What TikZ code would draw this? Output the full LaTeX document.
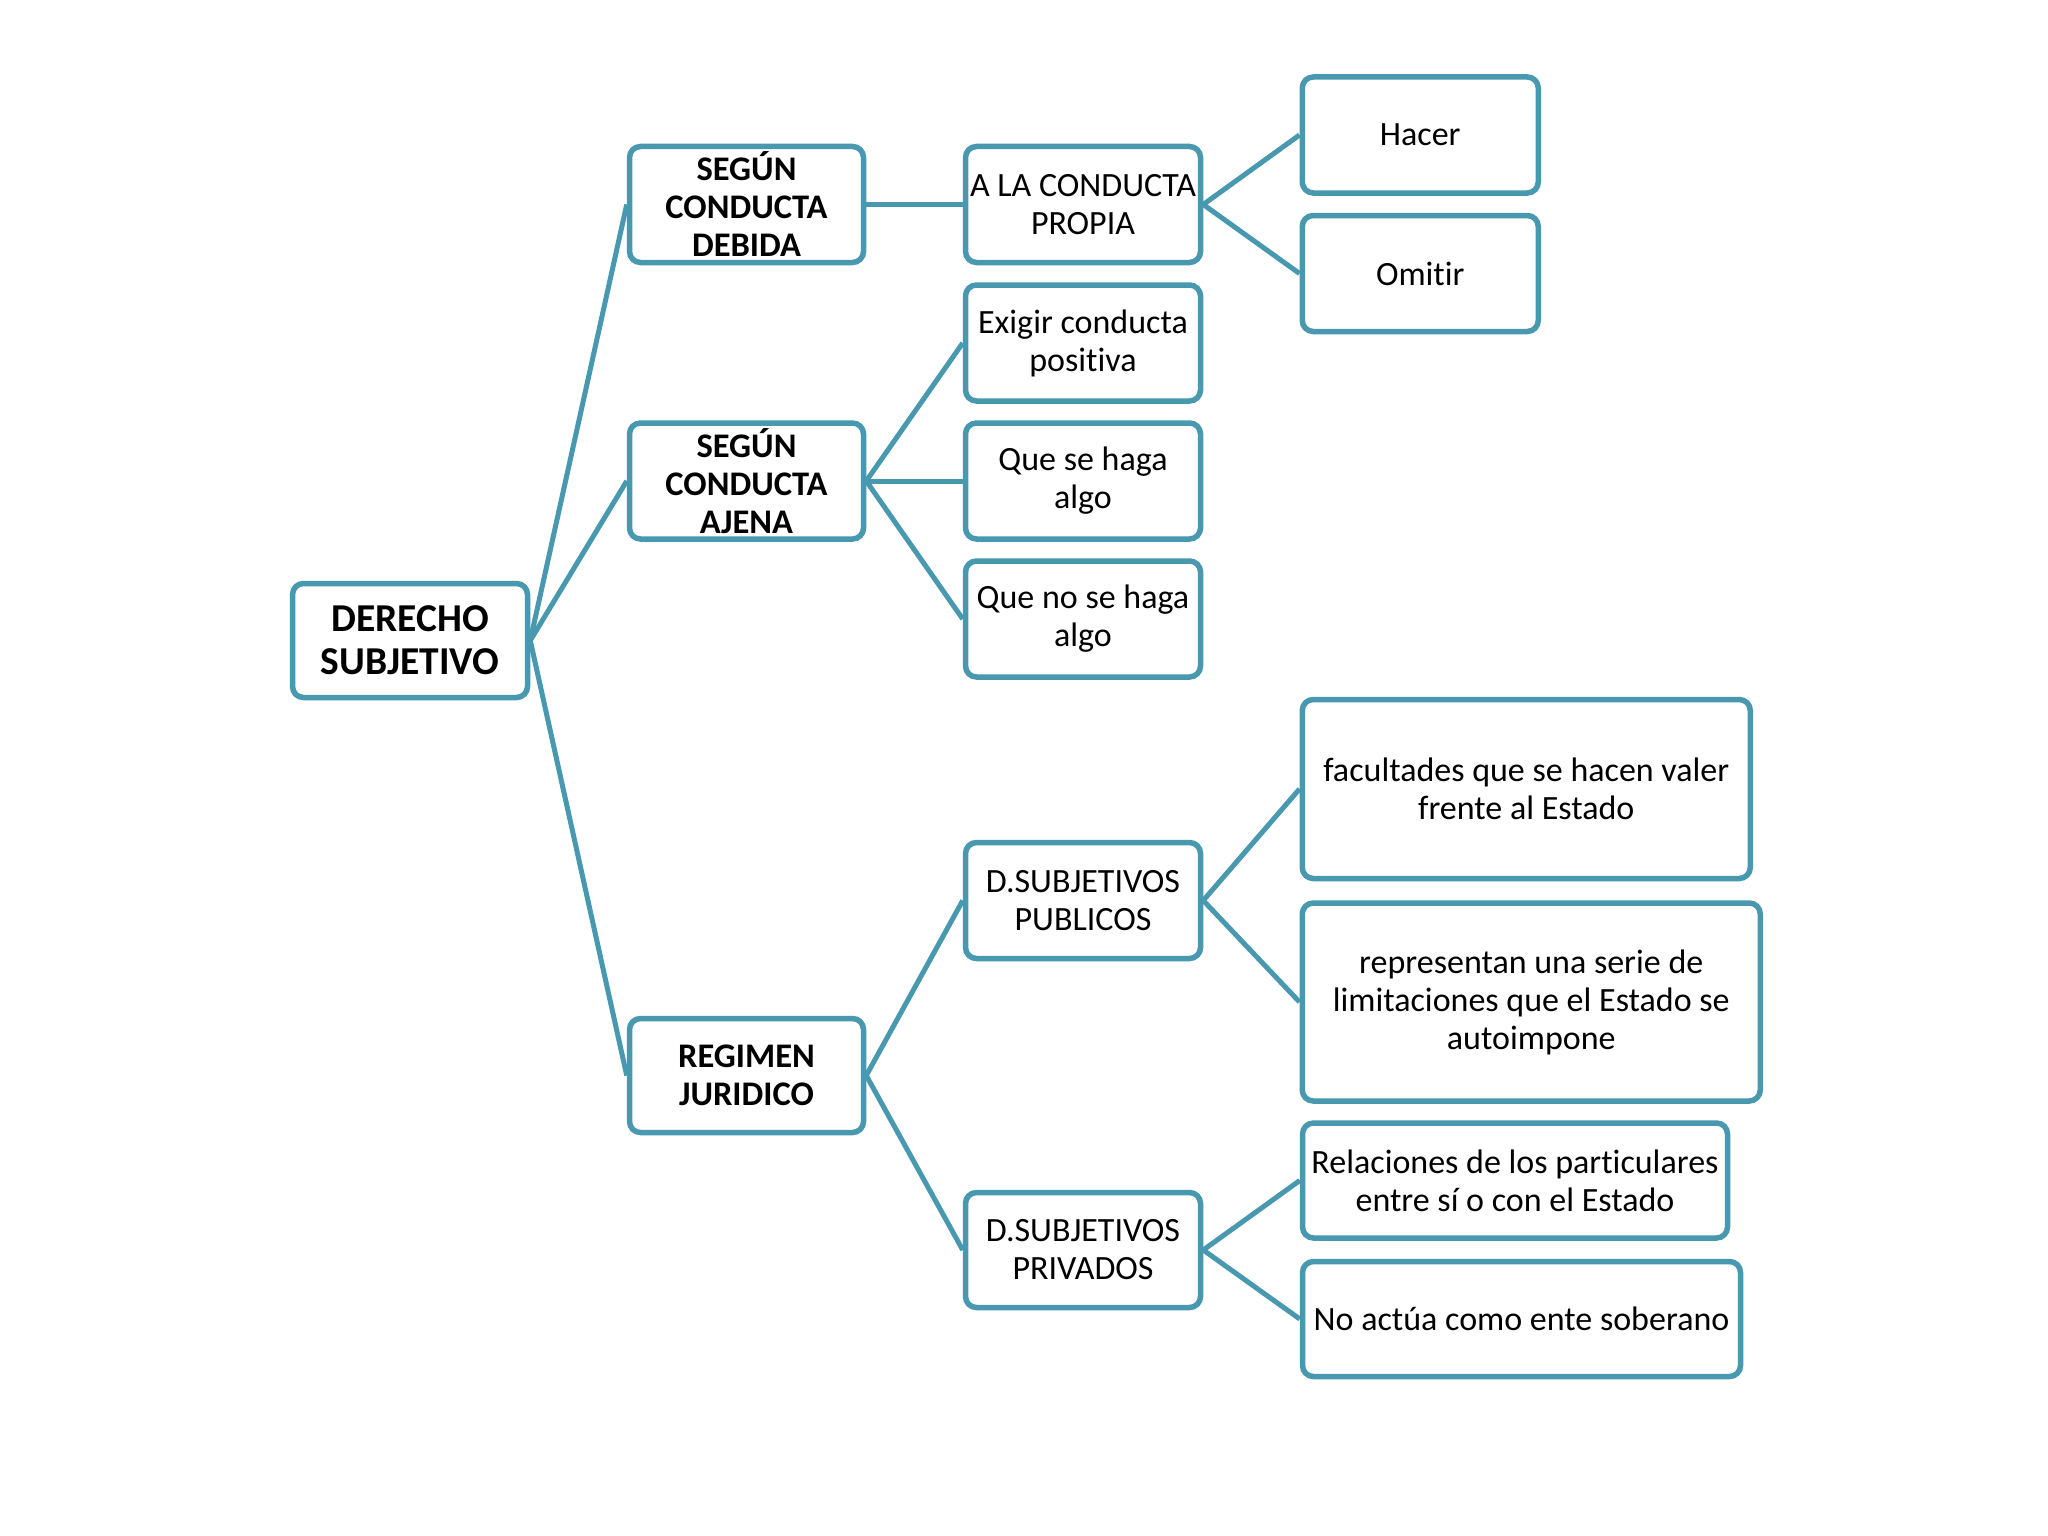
\documentclass[tikz,border=0pt]{standalone}
\usepackage{fontspec}
\setmainfont{Carlito}[Ligatures=NoCommon]
\definecolor{teal1}{HTML}{4898AF}
\begin{document}
\begin{tikzpicture}[x=1pt,y=-1pt,
  box/.style={draw=teal1,line width=5.5pt,rounded corners=11pt,fill=white,align=center,
    inner sep=2pt,font=\fontsize{34}{38}\selectfont},
  bbox/.style={box,font=\fontsize{34.5}{38}\selectfont\bfseries},
  link/.style={draw=teal1,line width=5pt}]
\useasboundingbox (0,0) rectangle (2048,1536);
\fill[white] (0,0) rectangle (2048,1536);
% level 0
\node[box,font=\fontsize{39.5}{43}\selectfont\bfseries,minimum width=235,minimum height=114] (ds) at (410,640.5) {DERECHO\\SUBJETIVO};
% level 1
\node[bbox,minimum width=234,minimum height=116] (deb) at (746.5,204.5) {SEGÚN\\CONDUCTA\\DEBIDA};
\node[bbox,minimum width=234,minimum height=116] (aje) at (746.5,481) {SEGÚN\\CONDUCTA\\AJENA};
\node[bbox,minimum width=234,minimum height=114] (reg) at (746.5,1075.5) {REGIMEN\\JURIDICO};
% level 2
\node[box,minimum width=235,minimum height=116] (pro) at (1083,204.5) {A LA CONDUCTA\\PROPIA};
\node[box,minimum width=235,minimum height=116] (exi) at (1083,343) {Exigir conducta\\positiva};
\node[box,minimum width=235,minimum height=116] (qse) at (1083,481) {Que se haga\\algo};
\node[box,minimum width=235,minimum height=116] (qno) at (1083,619) {Que no se haga\\algo};
\node[box,minimum width=235,minimum height=116] (pub) at (1083,900.5) {D.SUBJETIVOS\\PUBLICOS};
\node[box,minimum width=235,minimum height=115] (pri) at (1083,1250) {D.SUBJETIVOS\\PRIVADOS};
% level 3
\node[box,minimum width=236,minimum height=116] (hac) at (1420.25,135) {Hacer};
\node[box,minimum width=236,minimum height=116] (omi) at (1420.25,273.5) {Omitir};
\node[box,minimum width=448,minimum height=179] (fac) at (1526.25,789) {facultades que se hacen valer\\frente al Estado};
\node[box,minimum width=458,minimum height=198] (rep) at (1531.25,1002) {representan una serie de\\limitaciones que el Estado se\\autoimpone};
\node[box,minimum width=425,minimum height=115] (rel) at (1515,1180.5) {Relaciones de los particulares\\entre sí o con el Estado};
\node[box,minimum width=438,minimum height=115] (noa) at (1521.5,1319) {No actúa como ente soberano};
% connectors
\draw[link] (ds.east) -- (deb.west);
\draw[link] (ds.east) -- (aje.west);
\draw[link] (ds.east) -- (reg.west);
\draw[link] (deb.east) -- (pro.west);
\draw[link] (aje.east) -- (exi.west);
\draw[link] (aje.east) -- (qse.west);
\draw[link] (aje.east) -- (qno.west);
\draw[link] (reg.east) -- (pub.west);
\draw[link] (reg.east) -- (pri.west);
\draw[link] (pro.east) -- (hac.west);
\draw[link] (pro.east) -- (omi.west);
\draw[link] (pub.east) -- (fac.west);
\draw[link] (pub.east) -- (rep.west);
\draw[link] (pri.east) -- (rel.west);
\draw[link] (pri.east) -- (noa.west);
\end{tikzpicture}
\end{document}
